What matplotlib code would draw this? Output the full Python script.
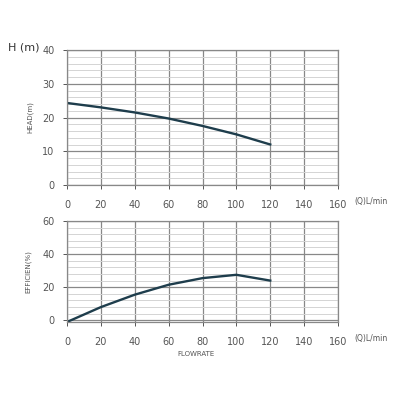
import matplotlib.pyplot as plt
from matplotlib.ticker import MultipleLocator

# pump curve
flow = [0, 20, 40, 60, 80, 100, 120]
head = [24.3, 23.0, 21.5, 19.7, 17.5, 15.0, 12.0]
eff = [-1.0, 8.0, 15.5, 21.5, 25.5, 27.5, 24.0]

xticks = [0, 20, 40, 60, 80, 100, 120, 140, 160]

fig = plt.figure(figsize=(4, 4), dpi=100)
ax1 = fig.add_axes([0.1675, 0.5375, 0.6775, 0.3375])
ax2 = fig.add_axes([0.1675, 0.195, 0.6775, 0.2525])

tick_col = "#555555"
line_col = "#1e3d4c"


def style(ax, ymax, ymin, ymaj, ymin_step, unit_y):
    ax.set_xlim(0, 160)
    ax.set_ylim(ymin, ymax)
    ax.set_xticks(xticks)
    ax.yaxis.set_major_locator(MultipleLocator(ymaj))
    ax.yaxis.set_minor_locator(MultipleLocator(ymin_step))
    ax.grid(True, which="major", color="#888888", lw=0.9)
    ax.grid(True, which="minor", axis="y", color="#d4d4d4", lw=0.7)
    ax.tick_params(labelsize=7, colors=tick_col, length=3, width=0.7)
    ax.tick_params(axis="y", pad=6)
    ax.tick_params(axis="x", pad=8)
    ax.tick_params(which="minor", length=0)
    for s in ax.spines.values():
        s.set_color("#888888")
        s.set_linewidth(0.9)
    # unit label sits in line with the x tick labels
    ax.text(1.06, unit_y, "(Q)L/min", transform=ax.transAxes, fontsize=5.5,
            color=tick_col, va="center", ha="left")
    ax.set_axisbelow(True)


ax1.plot(flow, head, color=line_col, lw=1.7)
style(ax1, 40, 0, 10, 2, -0.125)
ax1.set_ylabel("HEAD(m)", fontsize=5, color=tick_col, labelpad=6)
fig.text(0.02, 0.88, "H (m)", fontsize=8, color="#333333", va="center")

ax2.plot(flow, eff, color=line_col, lw=1.7)
style(ax2, 60, -1, 20, 4, -0.16)
ax2.set_ylabel("EFFICIEN(%)", fontsize=5, color=tick_col, labelpad=8)
fig.text(0.49, 0.11, "FLOWRATE", fontsize=5, color=tick_col, ha="center")

fig.savefig("out.png", dpi=100)
